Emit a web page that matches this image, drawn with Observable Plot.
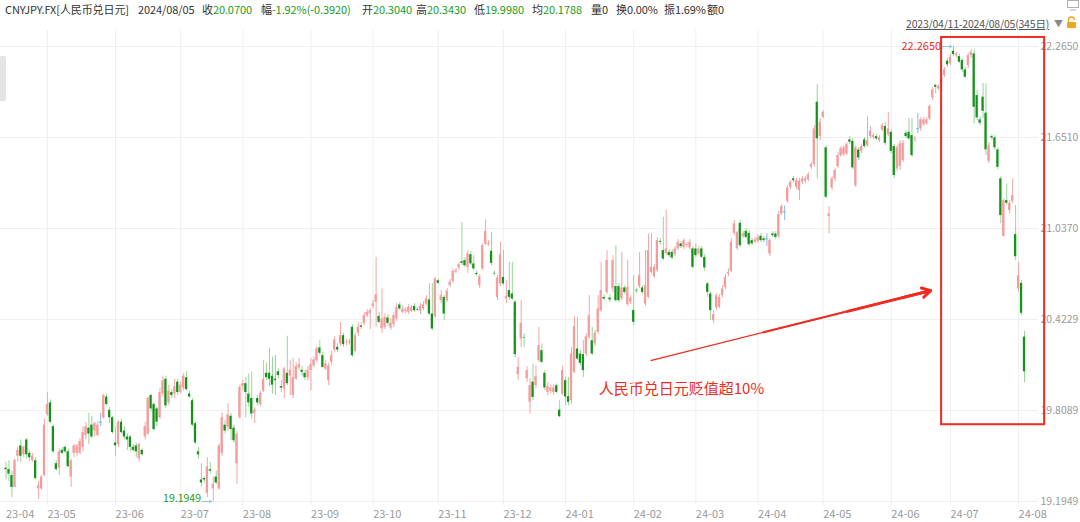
<!DOCTYPE html>
<html><head><meta charset="utf-8">
<script src="https://cdn.jsdelivr.net/npm/d3@7"></script>
<script src="https://cdn.jsdelivr.net/npm/@observablehq/plot@0.6"></script>
<style>
body{margin:0;background:#fff;}
#wrap{position:relative;width:1080px;height:522px;overflow:hidden;font-family:"Noto Sans CJK SC","Noto Sans",sans-serif;}
#wrap svg.plot{position:absolute;left:0;top:0;}
.h{position:absolute;top:1px;font-size:11px;color:#333;white-space:nowrap;line-height:16px;letter-spacing:-0.1px;}
.g{color:#1a9c1a;}
#range{position:absolute;left:906px;top:16px;font-size:10.5px;color:#555;text-decoration:underline;white-space:nowrap;line-height:15px;letter-spacing:-0.2px;}
#tri{position:absolute;left:1054px;top:16px;font-size:9px;color:#888;line-height:15px;}
#tab{position:absolute;left:0;top:56px;width:6px;height:45px;background:#e4e4e4;border-radius:0 2px 2px 0;}
</style></head><body><div id="wrap"></div>
<script>
// ---- data ----
const opens = [
19.42,19.41,19.37,19.29,19.50,19.57,19.51,19.61,19.52,19.47,
19.47,19.28,19.28,19.37,19.78,19.86,19.70,19.45,19.42,19.54,
19.56,19.53,19.36,19.52,19.52,19.52,19.56,19.64,19.69,19.71,
19.67,19.64,19.73,19.76,19.90,19.81,19.76,19.59,19.58,19.73,
19.67,19.63,19.63,19.56,19.57,19.48,19.54,19.63,19.65,19.91,
19.85,19.82,19.76,19.92,20.02,19.86,19.93,19.92,20.00,19.93,
19.96,20.03,19.92,19.875,19.72,19.53,19.34,19.35,19.25,19.41,
19.28,19.36,19.28,19.52,19.71,19.695,19.77,19.69,19.45,19.76,
19.97,19.99,19.92,19.89,19.79,19.89,19.848,19.94,20.06,20.06,
20.04,20.02,20.07,19.97,19.955,20.06,20.04,19.91,20.02,20.096,
20.08,20.06,20.028,20.08,20.11,20.145,20.231,20.179,20.089,20.01,
20.134,20.217,20.235,20.258,20.314,20.267,20.265,20.37,20.208,20.33,
20.38,20.397,20.449,20.46,20.51,20.54,20.444,20.36,20.37,20.433,
20.366,20.388,20.427,20.521,20.471,20.476,20.471,20.478,20.511,20.489,
20.478,20.494,20.528,20.555,20.46,20.442,20.685,20.55,20.572,20.55,
20.651,20.68,20.741,20.771,20.813,20.82,20.775,20.86,20.798,20.734,
20.651,20.764,20.933,20.928,20.883,20.734,20.572,20.663,20.707,20.561,
20.618,20.595,20.54,20.05,20.292,20.302,20.024,19.864,20.0,19.976,
20.145,20.213,20.06,19.931,19.938,19.931,19.976,19.812,19.92,20.01,
19.902,19.875,20.066,20.224,20.19,20.186,20.19,20.302,20.28,20.258,
20.336,20.483,20.572,20.606,20.568,20.629,20.645,20.645,20.562,20.636,
20.523,20.539,20.483,20.62,20.645,20.636,20.528,20.572,20.741,20.712,
20.753,20.95,20.888,20.869,20.876,20.876,20.86,20.899,20.933,20.91,
20.921,20.906,20.899,20.899,20.865,20.899,20.842,20.663,20.595,20.415,
20.501,20.505,20.584,20.64,20.73,20.748,21.004,20.901,21.072,20.982,
21.018,21.004,20.955,20.944,20.95,20.984,20.967,20.967,20.865,21.0,
21.0,20.982,21.135,21.15,21.22,21.315,21.372,21.315,21.293,21.349,
21.356,21.365,21.45,21.468,21.889,21.657,21.787,21.581,21.117,21.311,
21.372,21.455,21.529,21.536,21.54,21.635,21.625,21.326,21.567,21.558,
21.635,21.596,21.657,21.652,21.657,21.63,21.702,21.725,21.67,21.686,
21.59,21.439,21.455,21.495,21.679,21.686,21.664,21.635,21.71,21.709,
21.738,21.743,21.777,21.918,22.003,21.979,22.008,22.069,22.166,22.148,
22.233,22.204,22.197,22.17,22.107,22.137,22.204,22.215,21.934,21.77,
21.923,21.815,21.49,21.657,21.648,21.567,21.372,20.982,21.225,21.158,
21.22,20.996,20.629,20.667,20.304];
const closes = [
19.41,19.38,19.29,19.47,19.54,19.50,19.56,19.51,19.49,19.50,
19.35,19.30,19.36,19.71,19.85,19.73,19.53,19.41,19.53,19.52,
19.53,19.43,19.47,19.57,19.57,19.60,19.66,19.70,19.65,19.63,
19.72,19.71,19.73,19.91,19.85,19.76,19.66,19.57,19.73,19.66,
19.63,19.61,19.56,19.54,19.53,19.58,19.51,19.70,19.89,19.82,
19.68,19.73,19.93,20.01,19.84,19.94,19.91,19.97,19.93,19.98,
20.04,19.95,19.90,19.71,19.59,19.51,19.32,19.34,19.43,19.40,
19.31,19.32,19.57,19.76,19.67,19.78,19.68,19.605,19.65,19.965,
19.99,19.93,19.86,19.785,19.81,19.86,19.925,20.02,20.03,20.02,
19.98,20.01,20.045,19.96,20.09,19.99,20.08,20.03,20.105,20.118,
20.066,20.03,20.082,20.118,20.15,20.224,20.195,20.10,20.123,20.11,
20.179,20.285,20.217,20.314,20.253,20.27,20.273,20.179,20.314,20.37,
20.37,20.449,20.471,20.483,20.528,20.589,20.404,20.426,20.437,20.397,
20.397,20.449,20.505,20.494,20.494,20.487,20.505,20.501,20.482,20.485,
20.51,20.523,20.562,20.46,20.359,20.697,20.667,20.584,20.46,20.613,
20.674,20.748,20.752,20.793,20.802,20.786,20.865,20.798,20.764,20.726,
20.712,20.921,21.018,20.937,20.802,20.73,20.703,20.86,20.663,20.577,
20.572,20.561,20.186,20.10,20.397,20.298,20.078,19.976,19.897,20.037,
20.246,20.134,19.961,19.97,19.961,19.961,19.931,19.767,20.078,19.90,
19.864,20.19,20.375,20.156,20.127,20.078,20.307,20.449,20.19,20.33,
20.494,20.618,20.561,20.82,20.555,20.82,20.55,20.55,20.636,20.606,
20.64,20.568,20.404,20.615,20.719,20.606,20.651,20.888,20.775,20.775,
20.955,20.944,20.831,20.899,20.854,20.838,20.899,20.944,20.915,20.955,
20.928,20.944,20.775,20.854,20.899,20.843,20.771,20.606,20.483,20.456,
20.584,20.572,20.629,20.707,20.741,20.944,21.068,21.009,20.921,21.0,
20.977,20.928,20.933,20.96,20.977,20.955,20.955,20.967,20.955,20.989,
20.977,21.13,21.185,21.15,21.31,21.349,21.36,21.36,21.356,21.372,
21.372,21.4,21.468,21.709,21.642,21.754,21.821,21.248,21.135,21.372,
21.428,21.529,21.574,21.581,21.603,21.619,21.446,21.581,21.513,21.59,
21.59,21.63,21.693,21.664,21.642,21.652,21.731,21.612,21.709,21.558,
21.394,21.581,21.608,21.612,21.657,21.642,21.529,21.642,21.71,21.77,
21.77,21.77,21.86,21.972,21.99,21.995,22.049,22.107,22.141,22.193,
22.211,22.215,22.159,22.107,22.058,22.204,22.226,21.855,21.784,21.747,
21.828,21.568,21.596,21.648,21.581,21.45,21.124,21.225,21.207,21.207,
21.259,20.847,20.719,20.465,20.07];
const highs = [
19.46,19.47,19.40,19.48,19.56,19.61,19.57,19.62,19.54,19.52,
19.49,19.33,19.37,19.75,19.93,19.88,19.71,19.47,19.55,19.56,
19.57,19.55,19.48,19.58,19.58,19.62,19.70,19.73,19.79,19.77,
19.73,19.73,19.79,19.92,19.92,19.83,19.77,19.70,19.74,19.75,
19.70,19.65,19.64,19.58,19.59,19.59,19.55,19.73,19.90,19.92,
19.86,19.83,19.96,20.04,20.04,19.98,19.95,20.02,20.02,20.00,
20.06,20.07,19.94,19.89,19.73,19.56,19.45,19.36,19.49,19.46,
19.36,19.40,19.585,19.79,19.74,19.855,19.79,19.71,19.67,19.98,
20.01,20.03,20.055,20.07,19.83,19.91,19.94,20.145,20.13,20.23,
20.17,20.18,20.09,20.01,20.10,20.31,20.145,20.16,20.13,20.16,
20.105,20.08,20.105,20.16,20.17,20.24,20.28,20.20,20.145,20.13,
20.21,20.307,20.26,20.403,20.33,20.29,20.29,20.388,20.328,20.40,
20.40,20.469,20.489,20.496,20.55,20.842,20.469,20.629,20.46,20.456,
20.428,20.469,20.53,20.537,20.516,20.503,20.523,20.516,20.53,20.503,
20.53,20.543,20.584,20.665,20.665,20.707,20.699,20.618,20.584,20.631,
20.692,20.766,20.766,20.807,21.078,20.84,20.887,20.88,20.854,20.752,
20.726,20.935,21.095,20.955,21.011,20.752,20.719,20.943,20.892,20.685,
20.809,20.809,20.55,20.167,20.55,20.327,20.105,20.022,20.123,20.11,
20.37,20.258,20.078,19.999,19.983,19.983,19.988,19.875,20.11,20.032,
20.032,20.235,20.442,20.437,20.213,20.28,20.327,20.584,20.37,20.348,
20.584,20.809,20.59,20.887,20.59,20.854,20.921,20.665,20.876,20.651,
20.82,20.584,20.719,20.631,20.876,20.651,20.887,21.0,21.004,20.793,
20.975,20.969,21.113,21.158,20.894,20.894,20.915,20.962,20.948,20.969,
20.942,20.962,20.915,20.933,20.915,20.915,20.86,20.674,20.606,20.483,
20.597,20.59,20.651,20.726,20.766,20.969,21.09,21.02,21.09,21.016,
21.036,21.023,20.969,20.975,20.996,21.002,20.982,21.002,20.969,21.016,
21.016,21.151,21.198,21.19,21.326,21.36,21.387,21.374,21.374,21.387,
21.387,21.414,21.482,21.731,22.008,21.779,21.833,21.596,21.185,21.387,
21.441,21.549,21.59,21.596,21.617,21.657,21.644,21.596,21.583,21.603,
21.65,21.792,21.725,21.677,21.671,21.664,21.745,21.752,21.821,21.704,
21.603,21.596,21.63,21.63,21.698,21.779,21.779,21.657,21.814,21.785,
21.785,21.785,21.873,21.988,22.008,22.008,22.069,22.123,22.184,22.211,
22.265,22.224,22.211,22.184,22.123,22.218,22.244,22.242,21.968,21.792,
22.015,22.013,21.617,21.671,21.664,21.583,21.387,21.239,21.338,21.225,
21.372,21.192,20.809,20.685,20.343];
const lows = [
19.34,19.33,19.22,19.29,19.46,19.46,19.49,19.48,19.46,19.46,
19.34,19.21,19.27,19.36,19.77,19.72,19.52,19.40,19.37,19.51,
19.52,19.42,19.29,19.49,19.50,19.51,19.53,19.61,19.58,19.62,
19.63,19.63,19.70,19.75,19.84,19.72,19.65,19.50,19.56,19.65,
19.61,19.54,19.53,19.53,19.49,19.46,19.50,19.61,19.64,19.80,
19.67,19.70,19.75,19.90,19.82,19.84,19.89,19.89,19.91,19.92,
19.94,19.94,19.89,19.70,19.58,19.48,19.29,19.32,19.22,19.38,
19.1949,19.31,19.27,19.50,19.65,19.67,19.605,19.585,19.31,19.75,
19.94,19.76,19.83,19.75,19.72,19.84,19.835,19.93,20.01,19.97,
19.92,19.91,20.02,19.93,19.89,19.975,19.91,19.89,20.01,20.08,
20.04,20.01,20.01,19.94,20.10,20.13,20.179,20.09,20.078,19.976,
20.11,20.199,20.199,20.24,20.235,20.246,20.25,20.166,20.199,20.307,
20.355,20.381,20.435,20.354,20.496,20.37,20.395,20.327,20.354,20.375,
20.348,20.368,20.408,20.483,20.462,20.462,20.456,20.469,20.469,20.476,
20.456,20.483,20.516,20.449,20.348,20.429,20.658,20.53,20.415,20.537,
20.638,20.665,20.732,20.752,20.786,20.773,20.732,20.786,20.752,20.712,
20.631,20.752,20.921,20.915,20.786,20.719,20.55,20.645,20.651,20.53,
20.55,20.55,20.165,20.01,20.235,20.235,19.997,19.785,19.875,19.956,
20.134,20.125,19.942,19.909,19.922,19.909,19.922,19.76,19.909,19.841,
19.841,19.853,20.057,20.145,20.111,20.032,20.172,20.287,20.179,20.24,
20.32,20.469,20.55,20.59,20.537,20.604,20.539,20.537,20.55,20.59,
20.51,20.523,20.381,20.597,20.631,20.59,20.51,20.563,20.732,20.699,
20.739,20.928,20.82,20.854,20.84,20.827,20.847,20.888,20.901,20.894,
20.908,20.894,20.766,20.84,20.854,20.834,20.748,20.572,20.415,20.393,
20.483,20.496,20.57,20.624,20.712,20.739,20.989,20.89,20.908,20.969,
20.962,20.915,20.921,20.935,20.935,20.942,20.942,20.915,20.847,20.975,
20.962,20.969,21.124,21.09,21.205,21.299,21.346,21.299,21.225,21.333,
21.34,21.353,21.434,21.45,21.372,21.63,21.779,21.238,21.0,21.293,
21.353,21.441,21.516,21.522,21.529,21.603,21.434,21.313,21.495,21.542,
21.576,21.583,21.644,21.637,21.63,21.617,21.691,21.596,21.657,21.542,
21.374,21.421,21.428,21.482,21.644,21.63,21.516,21.617,21.675,21.691,
21.725,21.731,21.765,21.9,21.947,21.968,21.995,22.055,22.123,22.137,
22.197,22.19,22.15,22.089,22.049,22.116,22.184,21.743,21.765,21.731,
21.779,21.529,21.475,21.63,21.563,21.434,21.068,20.982,21.192,21.137,
21.205,20.82,20.606,20.449,19.998];
const monthLabels = ["23-04","23-05","23-06","23-07","23-08","23-09","23-10","23-11","23-12","24-01","24-02","24-03","24-04","24-05","24-06","24-07","24-08"];
const yTicks = [19.1949, 19.8089, 20.4229, 21.0370, 21.6510, 22.2650];
const headerFields = [
  ["CNYJPY.FX[人民币兑日元]", "", 5],
  ["2024/08/05", "", 138],
  ["收", "20.0700", 202],
  ["幅", "-1.92%(-0.3920)", 261],
  ["开", "20.3040", 362],
  ["高", "20.3430", 416],
  ["低", "19.9980", 474],
  ["均", "20.1788", 532],
  ["量0", "", 591],
  ["换0.00%", "", 616],
  ["振1.69%", "", 664],
  ["额0", "", 707]
];
const rangeText = "2023/04/11-2024/08/05(345日)";
const noteText = "人民币兑日元贬值超10%";
// annotation geometry in data units (candle index, CNY/JPY)
const notePos = {x: 200.2, y: 19.95};
const arrowFrom = {x: 217.7, y: 20.146};
const arrowTo = {x: 312.3, y: 20.618};
const boxSpan = {x1: 316.0, x2: 350.8, y1: 22.326, y2: 19.713};

// ---- build ----
const days = d3.utcDays(new Date(Date.UTC(2023,3,11)), new Date(Date.UTC(2024,7,6))).filter(d => d.getUTCDay() % 6 !== 0);
const data = opens.map((o, i) => ({i, date: days[i], open: o, high: highs[i], low: lows[i], close: closes[i]}));
const up = data.filter(d => d.close > d.open);
const down = data.filter(d => d.close < d.open);
const doji = data.filter(d => d.close === d.open);
const months = monthLabels.map(lbl => {
  const yr = 2000 + +lbl.slice(0, 2), m = +lbl.slice(3) - 1;
  return {label: lbl, i: data.findIndex(r => r.date && r.date.getUTCFullYear() === yr && r.date.getUTCMonth() === m)};
});
const maxI = d3.maxIndex(highs), minI = d3.minIndex(lows);
const fmt4 = d3.format(".4f");
const lerp = (t) => ({x: arrowFrom.x + (arrowTo.x - arrowFrom.x) * t, y: arrowFrom.y + (arrowTo.y - arrowFrom.y) * t});
const seg = (t) => [{...lerp(t), x2: arrowTo.x, y2: arrowTo.y}];
const RED = "#ef2b22";

const chart = Plot.plot({
  width: 1080, height: 522,
  marginTop: 30, marginBottom: 17, marginLeft: 0, marginRight: 42,
  x: {type: "linear", domain: [0, 344], range: [5.5, 1024], axis: null},
  y: {type: "linear", domain: [19.1949, 22.265], range: [501, 46], axis: null},
  style: {fontFamily: '"Noto Sans CJK SC","Noto Sans",sans-serif', background: "transparent"},
  marks: [
    Plot.ruleY(yTicks, {stroke: "#efefef", strokeWidth: 1}),
    Plot.ruleX(months.slice(1), {x: "i", stroke: "#efefef", strokeWidth: 1}),
    Plot.text(yTicks, {y: d => d, text: d => fmt4(d), frameAnchor: "right", dx: 2, textAnchor: "start", fill: "#9a9a9a", fontSize: 10.5}),
    Plot.text(months, {x: "i", text: "label", frameAnchor: "bottom", dy: 12, textAnchor: "start", fill: "#9a9a9a", fontSize: 11}),
    // wicks
    Plot.ruleX(up, {x: "i", y1: "low", y2: "high", stroke: "#f6a5a5", strokeWidth: 1}),
    Plot.ruleX(down, {x: "i", y1: "low", y2: "high", stroke: "#98d598", strokeWidth: 1}),
    Plot.ruleX(doji, {x: "i", y1: "low", y2: "high", stroke: "#8cb8e0", strokeWidth: 1}),
    // bodies
    Plot.rect(up, {x1: d => d.i - 0.38, x2: d => d.i + 0.38, y1: "open", y2: "close", fill: "#f49c9c"}),
    Plot.rect(down, {x1: d => d.i - 0.38, x2: d => d.i + 0.38, y1: "open", y2: "close", fill: "#14931a"}),
    Plot.ruleY(doji, {x1: d => d.i - 0.4, x2: d => d.i + 0.4, y: "open", stroke: "#6aa6dc", strokeWidth: 1}),
    // extreme labels
    Plot.arrow([{x1: maxI - 3.8, x2: maxI - 0.5, y: highs[maxI]}], {x1: "x1", x2: "x2", y1: "y", y2: "y", stroke: "#8cc4ea", strokeWidth: 1, headLength: 4}),
    Plot.text([{x: maxI - 3.8, y: highs[maxI]}], {x: "x", y: "y", text: d => fmt4(d.y), textAnchor: "end", dx: -1, fill: RED, fontSize: 11}),
    Plot.arrow([{x1: minI - 3.8, x2: minI - 0.5, y: lows[minI]}], {x1: "x1", x2: "x2", y1: "y", y2: "y", stroke: "#8cc4ea", strokeWidth: 1, headLength: 4}),
    Plot.text([{x: minI - 3.8, y: lows[minI]}], {x: "x", y: "y", text: d => fmt4(d.y), textAnchor: "end", dx: -1, dy: -3, fill: "#1a9c1a", fontSize: 10.5}),
    // red box
    Plot.rect([boxSpan], {x1: "x1", x2: "x2", y1: "y1", y2: "y2", fill: "none", stroke: RED, strokeWidth: 2}),
    // tapered arrow
    Plot.link(seg(0), {x1: "x", y1: "y", x2: "x2", y2: "y2", stroke: RED, strokeWidth: 1.2}),
    Plot.link(seg(0.4), {x1: "x", y1: "y", x2: "x2", y2: "y2", stroke: RED, strokeWidth: 2}),
    Plot.link(seg(0.7), {x1: "x", y1: "y", x2: "x2", y2: "y2", stroke: RED, strokeWidth: 2.8}),
    Plot.arrow(seg(0.9), {x1: "x", y1: "y", x2: "x2", y2: "y2", stroke: RED, strokeWidth: 3, headLength: 12, headAngle: 60}),
    Plot.text([notePos], {x: "x", y: "y", text: () => noteText, textAnchor: "start", fill: RED, fontSize: 15})
  ]
});
chart.classList.add("plot");
const wrap = document.getElementById("wrap");
wrap.appendChild(chart);
for (const [lab, val, left] of headerFields) {
  const s = document.createElement("div");
  s.className = "h";
  s.style.left = left + "px";
  s.textContent = lab;
  if (val) { const g = document.createElement("span"); g.className = "g"; g.textContent = val; s.appendChild(g); }
  wrap.appendChild(s);
}
const r = document.createElement("div"); r.id = "range"; r.textContent = rangeText; wrap.appendChild(r);
const t = document.createElement("div"); t.id = "tri"; t.textContent = "▼"; wrap.appendChild(t);
const tab = document.createElement("div"); tab.id = "tab"; wrap.appendChild(tab);
wrap.insertAdjacentHTML("beforeend",
  '<svg style="position:absolute;left:1066px;top:16px" width="11" height="12"><path d="M2.5 6V4a3 3 0 0 1 6 0" fill="none" stroke="#f0a51e" stroke-width="1.3"/><rect x="1" y="6" width="9" height="6" rx="1" fill="#f0a51e"/></svg>' +
  '<svg style="position:absolute;left:1066px;top:0px" width="14" height="11"><rect x="1.5" y="0.5" width="11" height="7" fill="none" stroke="#b0b0b0"/><line x1="4" y1="10" x2="10" y2="10" stroke="#b0b0b0"/></svg>');
</script>
</body></html>
